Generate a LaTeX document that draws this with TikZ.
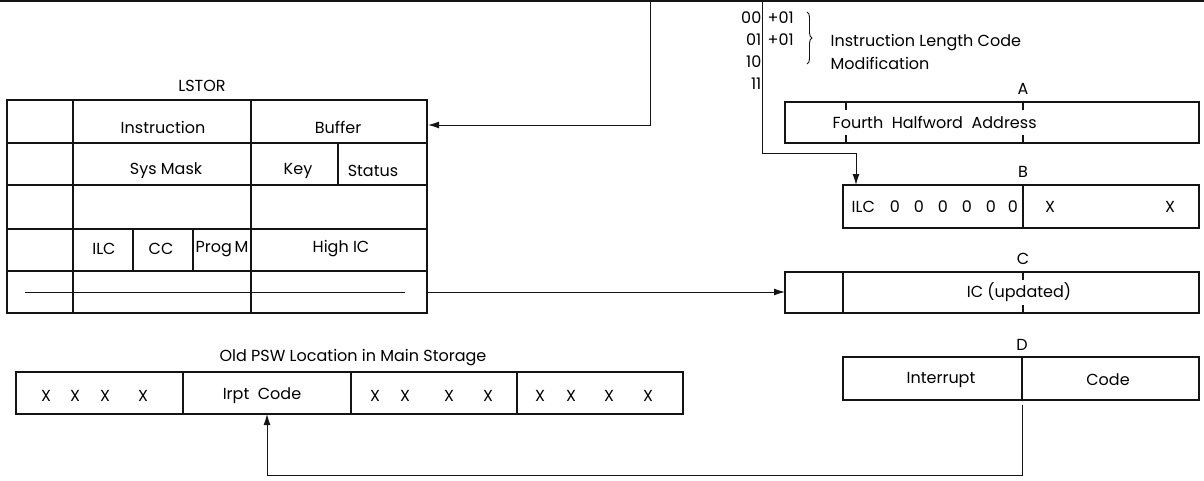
\documentclass[tikz,border=0pt]{standalone}
\usepackage{fontspec}
\setmainfont{Poppins}
\usetikzlibrary{arrows.meta,decorations.pathreplacing}
\definecolor{figline}{RGB}{20,20,20}
\tikzset{
  reg/.style ={draw=figline, line width=1.7pt},
  thn/.style ={draw=figline, line width=1pt},
  tck/.style ={draw=figline, line width=1.4pt},
  lab/.style ={font=\fontsize{16}{19}\selectfont, inner sep=0.5pt},
  ptr/.style ={draw=figline, line width=1pt, -{Latex[length=11pt,width=7pt]}},
}

\begin{document}
\begin{tikzpicture}[x=1pt,y=-1pt]
  \useasboundingbox (0,0) rectangle (1204,480);
  % bus line along the top
  \draw[draw=figline,line width=2pt] (0,1) -- (1204,1);
  % LSTOR
  \node[lab] (lstortitle) at (202,86) {LSTOR};
  \draw[reg] (7,100) rectangle (427,313);
  \draw[reg] (7,143) -- (427,143);
  \draw[reg] (7,185) -- (427,185);
  \draw[reg] (7,229) -- (427,229);
  \draw[reg] (7,271) -- (427,271);
  \draw[reg] (73,100) -- (73,313);
  \draw[reg] (251,100) -- (251,313);
  \draw[reg] (338,143) -- (338,185);
  \draw[reg] (133,229) -- (133,271);
  \draw[reg] (193,229) -- (193,271);
  \draw[thn] (25,292) -- (405,292);
  \node[lab] (instr) at (163,127) {Instruction};
  \node[lab] (buffer) at (338,127) {Buffer};
  \node[lab] (sysmask) at (166,171) {Sys Mask};
  \node[lab] (key) at (298,171) {Key};
  \node[lab] (status) at (373,171) {Status};
  \node[lab] (ilc) at (104,249) {ILC};
  \node[lab] (cc) at (161,249) {CC};
  \node[lab] (progm) at (222,249) {Prog\,M};
  \node[lab] (highic) at (341,249) {High IC};
  % instruction length code modification
  \node[lab,anchor=east] (c00) at (762,18) {00};
  \node[lab,anchor=east] (c01) at (762,40) {01};
  \node[lab,anchor=east] (c10) at (762,62) {10};
  \node[lab,anchor=east] (c11) at (762,84) {11};
  \node[lab,anchor=west] (p00) at (767,18) {+01};
  \node[lab,anchor=west] (p01) at (767,40) {+01};
  \draw[draw=figline,line width=0.9pt,decorate,decoration={brace,amplitude=5pt}] (807,12) -- (807,64);
  \node[lab,anchor=west] (ilcmod) at (830,43) {Instruction Length Code};
  \node[lab,anchor=west] (ilcmod2) at (830,63) {Modification};
  % register A
  \node[lab] (la) at (1023,89) {A};
  \draw[reg] (785,102) rectangle (1199,143);
  \draw[tck] (846,102) -- (846,110);
  \draw[tck] (846,135) -- (846,143);
  \draw[tck] (1023,102) -- (1023,110);
  \draw[tck] (1023,135) -- (1023,143);
  \node[lab,anchor=west] (fha) at (832,122) {Fourth\ \ Halfword\ \ Address};
  % register B
  \node[lab] (lb) at (1023,172) {B};
  \draw[reg] (843,185) rectangle (1199,228);
  \draw[reg] (1023,185) -- (1023,228);
  \node[lab,anchor=west] (ilcb) at (851,207) {ILC};
  \node[lab] (z1) at (895,207) {0};
  \node[lab] (z2) at (919,207) {0};
  \node[lab] (z3) at (943,207) {0};
  \node[lab] (z4) at (967,207) {0};
  \node[lab] (z5) at (991,207) {0};
  \node[lab] (z6) at (1013,207) {0};
  \node[lab] (xb1) at (1050,207) {X};
  \node[lab] (xb2) at (1170,207) {X};
  % register C
  \node[lab] (lc) at (1023,259) {C};
  \draw[reg] (785,272) rectangle (1199,313);
  \draw[reg] (843,272) -- (843,313);
  \draw[tck] (1023,272) -- (1023,280);
  \draw[tck] (1023,305) -- (1023,313);
  \node[lab] (icup) at (1019,292) {IC (updated)};
  % register D
  \node[lab] (ld) at (1022,345) {D};
  \draw[reg] (843,357) rectangle (1199,400);
  \draw[reg] (1022,357) -- (1022,400);
  \node[lab] (intr) at (941,380) {Interrupt};
  \node[lab] (code) at (1108,380) {Code};
  % old PSW
  \node[lab] (psw) at (353,358) {Old PSW Location in Main Storage};
  \draw[reg] (16,372) rectangle (683,414);
  \draw[reg] (183,372) -- (183,414);
  \draw[reg] (351,372) -- (351,414);
  \draw[reg] (517,372) -- (517,414);
  \node[lab] (x11) at (46,396) {X};
  \node[lab] (x12) at (75,396) {X};
  \node[lab] (x13) at (105,396) {X};
  \node[lab] (x14) at (143,396) {X};
  \node[lab] (irpt) at (262,396) {Irpt\ \ Code};
  \node[lab] (x31) at (375,396) {X};
  \node[lab] (x32) at (405,396) {X};
  \node[lab] (x33) at (449,396) {X};
  \node[lab] (x34) at (488,396) {X};
  \node[lab] (x41) at (540,396) {X};
  \node[lab] (x42) at (571,396) {X};
  \node[lab] (x43) at (609,396) {X};
  \node[lab] (x44) at (648,396) {X};
  % connectors
  \coordinate (bustap) at (650,1);
  \coordinate (lstorE) at (428,125);
  \draw[ptr] (bustap) |- (lstorE);
  \coordinate (ilctap) at (762,1);
  \coordinate (ilcbend) at (856,153);
  \coordinate (bN) at (856,185);
  \draw[ptr] (ilctap) |- (ilcbend) -- (bN);
  \coordinate (lstorIC) at (428,292);
  \coordinate (cW) at (785,292);
  \draw[ptr] (lstorIC) -- (cW);
  \coordinate (dS) at (1022,405);
  \coordinate (retbend) at (267,475);
  \coordinate (pswS) at (267,414);
  \draw[ptr] (dS) |- (retbend) -- (pswS);
\end{tikzpicture}
\end{document}
